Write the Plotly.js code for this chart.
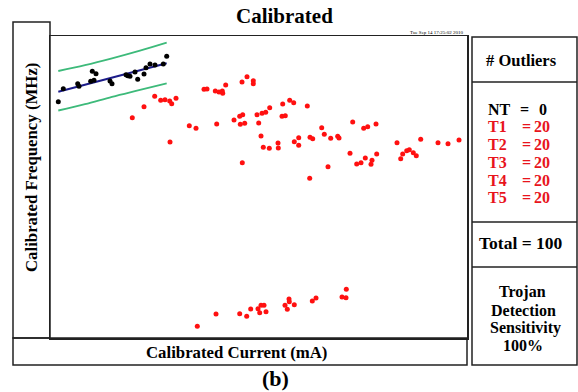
<!DOCTYPE html>
<html>
<head>
<meta charset="utf-8">
<script src="https://cdn.plot.ly/plotly-3.0.1.min.js"></script>
<style>html,body{margin:0;padding:0;background:#fff;}#chart{width:578px;height:392px;}</style>
</head>
<body>
<div id="chart"></div>
<script>
// ---- Data (arbitrary calibrated units) ----
const nominalCurrent = [8.3, 13.3, 27.7, 29, 40.7, 42.3, 44, 46, 60, 62, 76, 77.7, 80, 85, 87.7, 94, 96, 100, 105, 113.3, 116.7];
const nominalFreq    = [236.3, 249.3, 254.3, 251.7, 256.7, 266.7, 257.7, 264.3, 257, 254.3, 263.3, 262.3, 261.7, 266, 258.7, 264, 270.3, 274, 273, 274, 281.7];

const trojanCurrent = [82.3, 94, 104.7, 110.7, 115, 119.7, 121.7, 126, 120, 139.3, 146, 154, 157, 165.3, 169, 172.3, 172.7, 175.7, 166.7, 192,
  197, 203.3, 203.3, 184, 189.7, 192.7, 190.3, 194.7, 207, 208.7, 212, 215.7, 219.7, 232.7, 239.7, 243.7, 232, 235.3, 211, 213.3,
  219.3, 228, 228.3, 244.3, 248.7, 248.7, 192.3, 257.3, 271.7, 274.3, 280.7, 287.7, 289, 260, 262.7, 302.7, 313.7, 317.7, 326, 278,
  259.7, 300, 306.7, 311, 315.3, 322, 321, 326.7, 347, 350.7, 352.7, 356.7, 359.3, 363.3, 366.3, 370.7, 388, 398, 409,
  147.3, 166, 189.7, 196.7, 200.7, 208, 209.7, 211, 214, 216, 235, 237.3, 239, 239.3, 244.3, 262.3, 266, 292, 296, 296.3];
const trojanFreq = [220.3, 231.3, 241.7, 237.7, 238.3, 237, 234.3, 239.7, 196, 212.3, 209.7, 248.7, 249, 247, 246, 247, 244.7, 253, 214, 256,
  261.3, 257.3, 254.3, 218, 221.7, 223.3, 213.7, 214.7, 223.3, 215, 224.7, 225.7, 230.3, 234, 237.7, 235.3, 221.7, 222.3, 202, 190.7,
  189.7, 195, 190, 196.3, 200.3, 192.7, 175.3, 232, 210.3, 203.7, 199.7, 201.7, 200, 200.7, 199.3, 216, 209.7, 211.3, 214, 171.3,
  159.7, 184.7, 174, 175.3, 180, 177.7, 173.7, 184, 195.3, 179.3, 184, 187.3, 188.3, 185.3, 182.3, 198.7, 195.3, 194.3, 198,
  11.7, 24, 24.3, 21.7, 29, 29.3, 25.3, 32.7, 32.7, 26.3, 32.7, 28.7, 39, 36.3, 33.3, 37, 40, 41, 40.3, 48.7];

const fitCurrent = [8.3, 116.7];
const fitFreq = [246.3, 274.7];
const bandCurrent = [8.3, 35, 62, 90, 116.7];
const upperFreq = [267, 272.8, 279.6, 287.3, 295.3];
const lowerFreq = [227.5, 233.8, 241.2, 248.1, 254.7];

const titleText = "Calibrated";
const stampText = "Tue Sep 14 17:25:02 2010";
const yLabel = "Calibrated Frequency (MHz)";
const xLabel = "Calibrated Current (mA)";
const panelLabel = "(b)";
const outlierNames = ["NT", "T1", "T2", "T3", "T4", "T5"];
const outlierCounts = ["0", "20", "20", "20", "20", "20"];
const totalText = "Total = 100";
const sensLines = ["Trojan", "Detection", "Sensitivity", "100%"];

// ---- Layout helpers (page pixels -> paper coords) ----
const L = 50, R = 467, T = 36, B = 338;
const px = v => (v - L) / (R - L);
const py = v => (B - v) / (B - T);
const SERIF = "Liberation Serif, Times New Roman, serif";
const RED = "#e8141c";
const LINE = {color: "#222", width: 1.5};

const traces = [
  {x: bandCurrent, y: upperFreq, mode: "lines", line: {color: "#3dba7a", width: 1.8, shape: "spline"}, hoverinfo: "skip"},
  {x: bandCurrent, y: lowerFreq, mode: "lines", line: {color: "#3dba7a", width: 1.8, shape: "spline"}, hoverinfo: "skip"},
  {x: fitCurrent, y: fitFreq, mode: "lines", line: {color: "#1c1c8a", width: 2}},
  {x: nominalCurrent, y: nominalFreq, mode: "markers", marker: {color: "#000", size: 5}},
  {x: trojanCurrent, y: trojanFreq, mode: "markers", marker: {color: "#ff1010", size: 5}}
];

function box(x0, y0, x1, y1) {
  return {type: "rect", xref: "paper", yref: "paper", x0: px(x0), x1: px(x1), y0: py(y0), y1: py(y1), line: LINE, fillcolor: "rgba(0,0,0,0)"};
}
function hline(x0, x1, y) {
  return {type: "line", xref: "paper", yref: "paper", x0: px(x0), x1: px(x1), y0: py(y), y1: py(y), line: LINE};
}
const shapes = [
  box(13, 22, 50, 338),
  box(13, 338, 467, 365),
  box(472, 37, 577, 365),
  hline(472, 577, 82),
  hline(472, 577, 222),
  hline(472, 577, 267)
];

function ann(text, x, y, size, opts) {
  return Object.assign({
    text: text, xref: "paper", yref: "paper", x: px(x), y: py(y), showarrow: false,
    xanchor: "center", yanchor: "middle",
    font: {family: SERIF, size: size, color: "#000", weight: "bold"}
  }, opts || {});
}
const annotations = [
  ann(titleText, 284, 16, 21),
  ann(stampText, 465, 32.5, 5, {xanchor: "right", font: {family: SERIF, size: 5, color: "#000"}}),
  ann(yLabel, 31, 168, 16.8, {textangle: -90}),
  ann(xLabel, 236, 352, 16.8),
  ann(panelLabel, 275, 378, 22),
  ann("# Outliers", 521, 61, 16.5),
  ann(totalText, 520, 243, 17.5)
];
const rowY = [109, 126.5, 144.3, 162.3, 180, 197.7];
const RS = 16;
outlierNames.forEach((n, i) => {
  const col = i === 0 ? "#000" : RED;
  const f = {family: SERIF, size: RS, color: col, weight: "bold"};
  annotations.push(ann(n, 485.5, rowY[i], RS, {xanchor: "left", font: f}));
  annotations.push(ann("=", i === 0 ? 518 : 520, rowY[i], RS, {xanchor: "left", font: f}));
  annotations.push(ann(outlierCounts[i], i === 0 ? 537 : 532, rowY[i], RS, {xanchor: "left", font: f}));
});
const sensY = [292, 310, 328, 345.5];
const sensX = [522, 523, 525.5, 523];
sensLines.forEach((s, i) => annotations.push(ann(s, sensX[i], sensY[i], 16)));

const axisCommon = {showline: true, mirror: true, linecolor: "#222", linewidth: 1.5, showticklabels: false,
  ticks: "", showgrid: false, zeroline: false, fixedrange: true};

const layout = {
  width: 578, height: 392,
  margin: {l: L, r: 578 - R, t: T, b: 392 - B, pad: 0},
  paper_bgcolor: "#fff", plot_bgcolor: "#fff",
  showlegend: false,
  xaxis: Object.assign({range: [0, 417]}, axisCommon),
  yaxis: Object.assign({range: [0, 302]}, axisCommon),
  shapes: shapes,
  annotations: annotations
};

Plotly.newPlot("chart", traces, layout, {displayModeBar: false, staticPlot: true});
</script>
</body>
</html>
